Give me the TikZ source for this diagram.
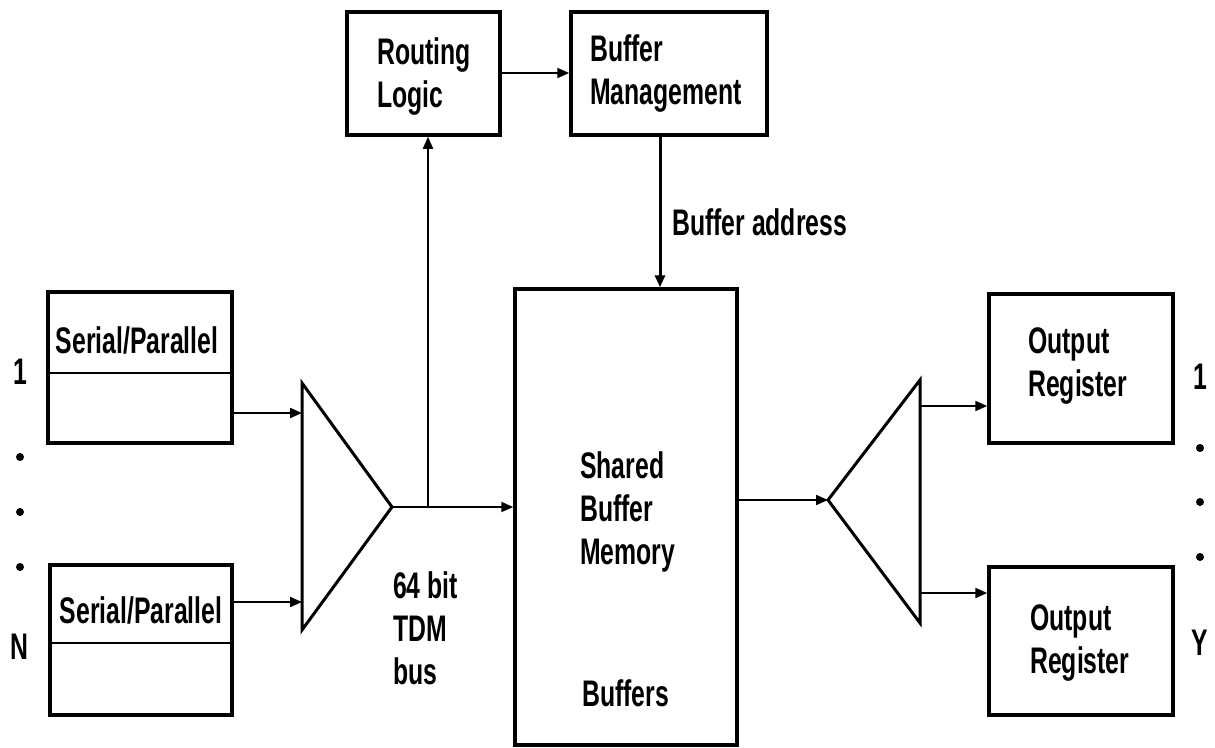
\documentclass[tikz,border=0pt]{standalone}
\usepackage{fontspec}
\setmainfont{Liberation Sans}[FakeStretch=0.67]
\usetikzlibrary{arrows.meta}
\tikzset{
  blk/.style={draw, line width=3.5pt, inner sep=0pt},
  conn/.style={line width=2pt, -{Triangle[length=12pt,width=10pt]}},
  lbl/.style={font=\bfseries\fontsize{37}{43}\selectfont, inner sep=0pt, align=left},
  tri/.style={line width=3pt, line join=miter},
}
\begin{document}
\begin{tikzpicture}[x=1pt,y=-1pt]
\useasboundingbox (0,0) rectangle (1215,747);
% boxes
\node[blk, minimum width=153pt, minimum height=123pt] (rl) at (423.5,73.5) {};
\node[blk, minimum width=196pt, minimum height=123pt] (bm) at (669,73.5) {};
\node[blk, minimum width=184pt, minimum height=151pt] (sp1) at (140,367.5) {};
\node[blk, minimum width=182pt, minimum height=150pt] (spN) at (141,640) {};
\node[blk, minimum width=222pt, minimum height=456pt] (mem) at (626,517) {};
\node[blk, minimum width=184pt, minimum height=149pt] (or1) at (1081,368.5) {};
\node[blk, minimum width=184pt, minimum height=148pt] (orY) at (1081,641) {};
% dividers
\draw[line width=1.5pt] (sp1.west |- 0,373) -- (sp1.east |- 0,373);
\draw[line width=1.5pt] (spN.west |- 0,643) -- (spN.east |- 0,643);
% triangles
\coordinate (muxT) at (302,383);
\coordinate (muxA) at (392,507);
\coordinate (muxB) at (302,630);
\draw[tri] (muxT) -- (muxA) -- (muxB) -- cycle;
\coordinate (dmxT) at (920,380);
\coordinate (dmxA) at (828,500);
\coordinate (dmxB) at (920,623);
\draw[tri] (dmxT) -- (dmxA) -- (dmxB) -- cycle;
% texts
\node[lbl, anchor=west] (trl) at (377,77) {Routing\\Logic};
\node[lbl, anchor=west] (tbm) at (590,74) {Buffer\\Management};
\node[lbl, anchor=west] (tba) at (672,222) {Buffer address};
\node[lbl] (tsp1) at (137,340) {Serial/Parallel};
\node[lbl] (tspN) at (141,610) {Serial/Parallel};
\node[lbl, anchor=west] (tbus) at (393,628) {64 bit\\TDM\\bus};
\node[lbl, anchor=west] (tmem) at (580,512) {Shared\\Buffer\\Memory};
\node[lbl, anchor=west] (tbuf) at (582,693) {Buffers};
\node[lbl, anchor=west] (tor1) at (1028,366) {Output\\Register};
\node[lbl, anchor=west] (torY) at (1030,643) {Output\\Register};
\node[lbl] (in1) at (20,372) {1};
\node[lbl] (inN) at (19,647) {N};
\node[lbl] (out1) at (1200,377) {1};
\node[lbl] (outY) at (1200,643) {Y};
\foreach \yy in {457,512,567} \fill (20,\yy) circle (4pt);
\foreach \yy in {448,502,557} \fill (1200,\yy) circle (4pt);
% connectors
\coordinate (mi1) at (302,413);
\coordinate (miN) at (302,602);
\draw[conn] (sp1.east |- mi1) -- (mi1);
\draw[conn] (spN.east |- miN) -- (miN);
\draw[conn] (muxA) -- (mem.west |- muxA);
\coordinate (br) at (428,507);
\draw[conn] (br) -- (rl.south -| br);
\draw[conn] (rl.east |- 0,73) -- (bm.west |- 0,73);
\coordinate (bax) at (660,0);
\draw[conn, line width=3pt] (bm.south -| bax) -- (mem.north -| bax);
\draw[conn] (mem.east |- dmxA) -- (dmxA);
\coordinate (do1) at (920,406);
\coordinate (doY) at (920,593);
\draw[conn] (do1) -- (or1.west |- do1);
\draw[conn] (doY) -- (orY.west |- doY);
\end{tikzpicture}
\end{document}
